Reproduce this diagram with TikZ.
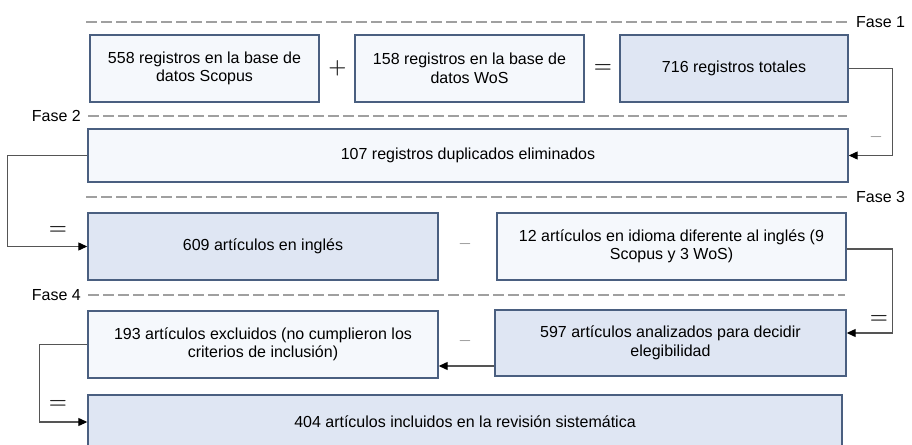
\documentclass[tikz,border=0pt]{standalone}
\usepackage{fontspec}
\setmainfont{Liberation Sans}
\usetikzlibrary{arrows.meta,calc}
\definecolor{bordc}{HTML}{4A5F80}
\definecolor{lightf}{HTML}{F5F8FC}
\definecolor{darkf}{HTML}{DFE6F3}
\definecolor{dashc}{HTML}{A0A0A0}
\definecolor{linec}{HTML}{555555}
\definecolor{symc}{HTML}{222222}
\definecolor{minc}{HTML}{767676}
\tikzset{
  box/.style={draw=bordc, line width=1.4pt, inner sep=0pt, align=center,
    font=\fontsize{16}{18.5}\selectfont},
  lbox/.style={box, fill=lightf},
  dbox/.style={box, fill=darkf},
  phase/.style={draw=dashc, line width=1.8pt, dash pattern=on 11pt off 4pt},
  phtext/.style={font=\fontsize{16}{18.5}\selectfont, inner sep=0pt},
  conn/.style={draw=linec, line width=1.2pt, -{Triangle[length=9pt,width=8pt,color=black]}},
  sym/.style={text=symc, inner sep=0pt, font=\fontsize{20}{20}\selectfont\boldmath},
  msym/.style={text=minc, inner sep=0pt, font=\fontsize{18}{18}\selectfont}
}
\begin{document}
\begin{tikzpicture}[x=1pt,y=-1pt]
\useasboundingbox (0,0) rectangle (912,444);
% phase lines
\coordinate (p1a) at (86,22);  \coordinate (p1b) at (847,22);
\coordinate (p2a) at (88,116); \coordinate (p2b) at (847,116);
\coordinate (p3a) at (86,197); \coordinate (p3b) at (847,197);
\coordinate (p4a) at (88,295); \coordinate (p4b) at (845,295);
\draw[phase] (p1a) -- (p1b);
\draw[phase] (p2a) -- (p2b);
\draw[phase] (p3a) -- (p3b);
\draw[phase] (p4a) -- (p4b);
\node[phtext, anchor=west] (f1) at (856,22) {Fase 1};
\node[phtext, anchor=east] (f2) at (81,116) {Fase 2};
\node[phtext, anchor=west] (f3) at (856,197) {Fase 3};
\node[phtext, anchor=east] (f4) at (81,295) {Fase 4};
% boxes
\node[lbox, minimum width=229pt, minimum height=67pt] (A) at (204.5,68.5)
  {558 registros en la base de\\datos Scopus};
\node[lbox, minimum width=229pt, minimum height=67pt] (B) at (469.5,68.5)
  {158 registros en la base de\\datos WoS};
\node[dbox, minimum width=228pt, minimum height=67pt] (C) at (734,68.5)
  {716 registros totales};
\node[lbox, minimum width=760pt, minimum height=53pt] (D) at (468,155.5)
  {107 registros duplicados eliminados};
\node[dbox, minimum width=350pt, minimum height=67pt] (E) at (263,246.5)
  {609 artículos en inglés};
\node[lbox, minimum width=349pt, minimum height=67pt] (F) at (671.5,246.5)
  {12 artículos en idioma diferente al inglés (9\\Scopus y 3 WoS)};
\node[dbox, minimum width=351pt, minimum height=66pt] (G) at (670.5,343)
  {597 artículos analizados para decidir\\elegibilidad};
\node[lbox, minimum width=350pt, minimum height=67pt] (H) at (263,344.5)
  {193 artículos excluidos (no cumplieron los\\criterios de inclusión)};
\node[dbox, minimum width=754pt, minimum height=54pt] (I) at (465,422)
  {404 artículos incluidos en la revisión sistemática};
% operators
\node[sym] (plus) at (337.5,68.5) {$+$};
\node[sym] (eq1) at (603,68.5) {$=$};
\node[msym] (m1) at (465,244) {$-$};
\node[msym] (m2) at (465,341) {$-$};
% connectors
\draw[conn] (C.east) -- ++(44,0) |- (D.east);
\node[msym] (m0) at (876,137) {$-$};
\draw[conn] (D.west) -- ++(-80,0) |- (E.west);
\node[sym] (eq2) at (58,230) {$=$};
\draw[conn] ([yshift=-2.5pt]F.east) -- ++(46,0) |- ([yshift=10pt]G.east);
\node[sym] (eq3) at (879,319) {$=$};
\draw[conn] ([yshift=-23pt]G.west) -- ([yshift=-23pt]G.west -| H.east);
\draw[conn] (H.west) -- ++(-48,0) |- (I.west);
\node[sym] (eq4) at (58,404) {$=$};
\end{tikzpicture}
\end{document}
